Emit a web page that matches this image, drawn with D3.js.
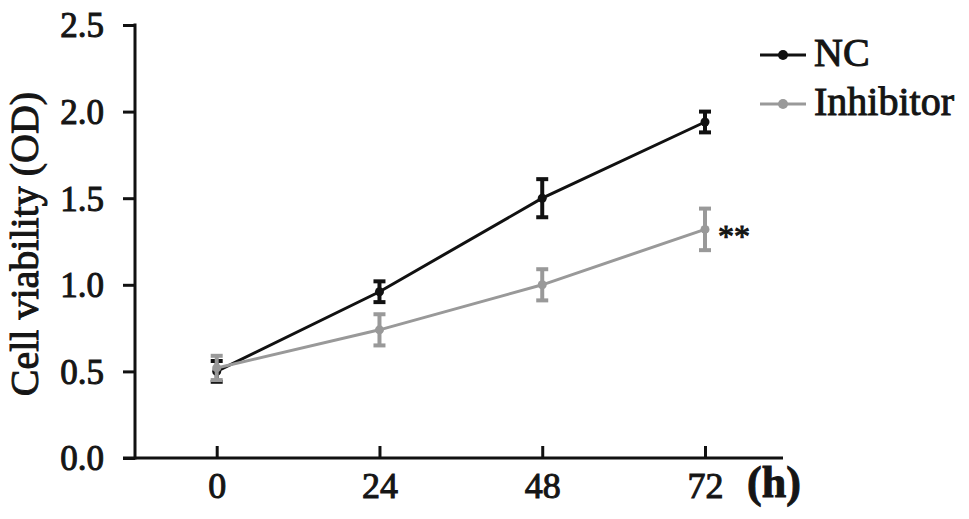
<!DOCTYPE html>
<html><head><meta charset="utf-8">
<script src="https://cdn.jsdelivr.net/npm/d3@7"></script>
<style>body{margin:0;background:#fff}svg{display:block}text{font-family:"Liberation Serif","Times New Roman",serif;font-weight:normal;fill:#151515;stroke:#151515;stroke-width:1px}</style>
</head><body>
<script>
const hours = [0, 24, 48, 72];
const ncMean = [0.50, 0.96, 1.50, 1.94];
const ncErr = [0.06, 0.06, 0.11, 0.06];
const inhMean = [0.52, 0.74, 1.00, 1.32];
const inhErr = [0.07, 0.09, 0.09, 0.12];
const yTicks = [0, 0.5, 1.0, 1.5, 2.0, 2.5];
const seriesNames = ["NC", "Inhibitor"];
const seriesColors = ["#111111", "#999999"];

const W = 969, H = 519;
const svg = d3.select("body").append("svg").attr("width", W).attr("height", H);
const x = d3.scaleLinear().domain([0, 72]).range([216.7, 705]);
const y = d3.scaleLinear().domain([0, 2.5]).range([458, 25]);

// Y axis
const yAx = svg.append("g").attr("transform", "translate(135,0)")
  .call(d3.axisLeft(y).tickValues(yTicks).tickFormat(d3.format(".1f")).tickSize(12).tickPadding(19));
yAx.select(".domain").remove();
yAx.append("line").attr("x1", 0).attr("x2", 0).attr("y1", y(2.5) - 1.5).attr("y2", y(0) + 1.5)
  .attr("stroke", "#111").attr("stroke-width", 3);
yAx.selectAll(".tick line").attr("stroke", "#111").attr("stroke-width", 3);
yAx.selectAll(".tick text").style("font-size", "35px").attr("dy", "0.34em");

// X axis
const xAx = svg.append("g").attr("transform", "translate(0,458)")
  .call(d3.axisBottom(x).tickValues(hours).tickSize(-12).tickPadding(14));
xAx.select(".domain").remove();
xAx.append("line").attr("x1", 123).attr("x2", 783).attr("y1", 0).attr("y2", 0)
  .attr("stroke", "#111").attr("stroke-width", 3);
xAx.selectAll(".tick line").attr("stroke", "#111").attr("stroke-width", 3);
xAx.selectAll(".tick text").style("font-size", "36px").attr("dy", "0.71em");
svg.append("text").attr("x", 774).attr("y", 497).attr("text-anchor", "middle")
  .style("font-size", "44px").style("font-weight", "bold").text("(h)");

// Y label
svg.append("text").attr("transform", "translate(38,244) rotate(-90)").attr("text-anchor", "middle")
  .style("font-size", "40px").text("Cell viability (OD)");

const series = [
  {name: seriesNames[0], color: seriesColors[0], mean: ncMean, err: ncErr},
  {name: seriesNames[1], color: seriesColors[1], mean: inhMean, err: inhErr}
];
const line = d3.line().x(d => x(d.h)).y(d => y(d.m));
series.forEach(s => {
  const pts = hours.map((h, i) => ({h, m: s.mean[i], e: s.err[i]}));
  const g = svg.append("g");
  g.append("path").datum(pts).attr("d", line).attr("fill", "none")
    .attr("stroke", s.color).attr("stroke-width", 3);
  const eb = g.selectAll(".eb").data(pts).enter().append("g");
  eb.append("line").attr("x1", d => x(d.h)).attr("x2", d => x(d.h))
    .attr("y1", d => y(d.m - d.e)).attr("y2", d => y(d.m + d.e))
    .attr("stroke", s.color).attr("stroke-width", 4);
  [-1, 1].forEach(sg => {
    eb.append("line").attr("x1", d => x(d.h) - 6).attr("x2", d => x(d.h) + 6)
      .attr("y1", d => y(d.m + sg * d.e)).attr("y2", d => y(d.m + sg * d.e))
      .attr("stroke", s.color).attr("stroke-width", 4);
  });
  eb.append("circle").attr("cx", d => x(d.h)).attr("cy", d => y(d.m)).attr("r", 4.5).attr("fill", s.color);
});

// significance
svg.append("text").attr("x", 718).attr("y", y(inhMean[3]) + 18).style("font-size", "32px").text("**");

// Legend
const leg = svg.append("g");
series.forEach((s, i) => {
  const ly = 55 + i * 49;
  leg.append("line").attr("x1", 760).attr("x2", 806).attr("y1", ly).attr("y2", ly)
    .attr("stroke", s.color).attr("stroke-width", 3);
  leg.append("circle").attr("cx", 783).attr("cy", ly).attr("r", 5).attr("fill", s.color);
  leg.append("text").attr("x", 814).attr("y", ly + 11).style("font-size", "40px").text(s.name);
});
</script>
</body></html>
